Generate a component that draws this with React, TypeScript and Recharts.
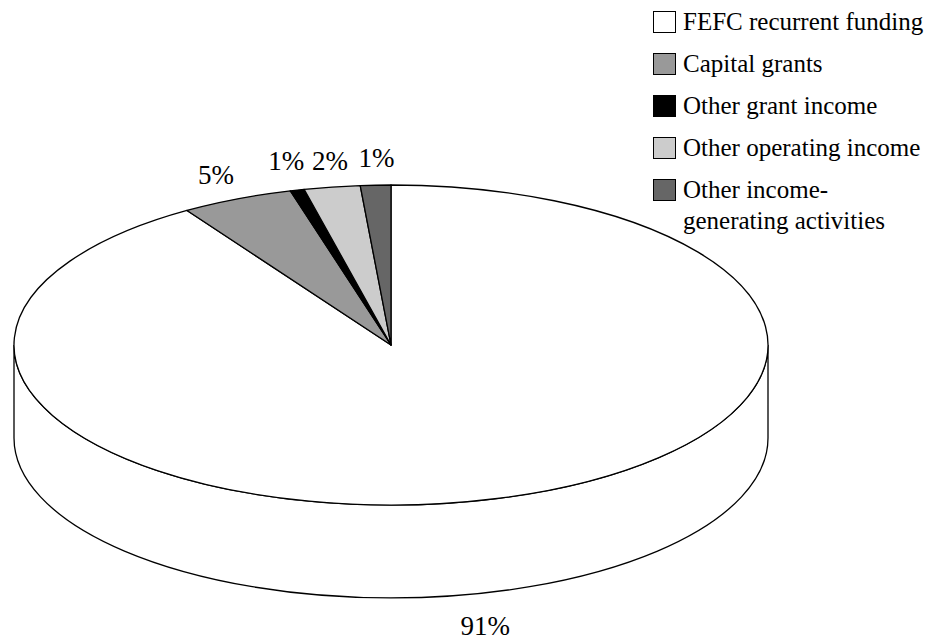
import React from "react";
import { PieChart, Pie, Legend } from "recharts";

const categories = [
  "FEFC recurrent funding",
  "Capital grants",
  "Other grant income",
  "Other operating income",
  "Other income-generating activities",
];
const shares = [90.9, 4.8, 0.6, 2.4, 1.3];
const percentLabels = ["91%", "5%", "1%", "2%", "1%"];
const fills = ["#ffffff", "#999999", "#000000", "#cccccc", "#666666"];
const labelOffsets = [
  [-12, 43],
  [-21, -15],
  [-11, -20],
  [-2, -17],
  [1, -18],
];

const FONT = "'Liberation Serif', serif";
const CX = 391;
const CY = 345;
const RX = 377;
const RY = 160;
const DEPTH = 93;

const chartData = categories.map((name, i) => ({
  name,
  value: shares[i],
  fill: fills[i],
  label: percentLabels[i],
}));

const rad = (a: number) => (a * Math.PI) / 180;
const px = (cx: number, a: number) => cx + RX * Math.cos(rad(a));
const py = (cy: number, a: number) => cy - RY * Math.sin(rad(a));

function EllipseSector(props: any) {
  const { cx, cy, startAngle, endAngle, fill, index } = props;
  const large = Math.abs(startAngle - endAngle) > 180 ? 1 : 0;
  const d = `M${cx},${cy} L${px(cx, startAngle)},${py(cy, startAngle)} A${RX},${RY} 0 ${large} 1 ${px(cx, endAngle)},${py(cy, endAngle)} Z`;
  const first = startAngle === 90 && (index === 0 || index === undefined);
  const wall = `M${cx - RX},${cy} L${cx - RX},${cy + DEPTH} A${RX},${RY} 0 0 0 ${cx + RX},${cy + DEPTH} L${cx + RX},${cy} A${RX},${RY} 0 0 1 ${cx - RX},${cy} Z`;
  return (
    <g>
      {first && <path d={wall} fill="#ffffff" stroke="#000000" strokeWidth={1.3} />}
      <path d={d} fill={fill} stroke="#000000" strokeWidth={1.3} strokeLinejoin="round" />
    </g>
  );
}

function PercentLabel(props: any) {
  const { cx, cy, midAngle, index, payload } = props;
  const [ox, oy] = labelOffsets[index];
  const wallShift = index === 0 ? DEPTH : 0;
  return (
    <text
      x={px(cx, midAngle) + ox}
      y={py(cy, midAngle) + oy + wallShift}
      textAnchor="middle"
      fontFamily={FONT}
      fontSize={27}
      fill="#000000"
    >
      {payload?.label ?? percentLabels[index]}
    </text>
  );
}

function LegendBlock() {
  return (
    <div style={{ fontFamily: FONT, fontSize: 25, color: "#000" }}>
      {chartData.map((d, i) => {
        const parts = d.name === categories[4] ? ["Other income-", "generating activities"] : [d.name];
        return (
          <div key={d.name} style={{ position: "absolute", left: 0, top: i * 42, display: "flex" }}>
            <div
              style={{
                width: 23,
                height: 22,
                background: d.fill,
                border: "1px solid #000",
                boxSizing: "border-box",
              }}
            />
            <div style={{ marginLeft: 7, marginTop: -5, lineHeight: "31px", whiteSpace: "nowrap" }}>
              {parts.map((p) => (
                <div key={p}>{p}</div>
              ))}
            </div>
          </div>
        );
      })}
    </div>
  );
}

export default function App() {
  return (
    <div style={{ position: "absolute", left: 0, top: 0, width: 926, height: 642, background: "#fff" }}>
      <PieChart width={926} height={642} margin={{ top: 0, right: 0, bottom: 0, left: 0 }}>
        <Pie
          data={chartData}
          dataKey="value"
          nameKey="name"
          cx={CX}
          cy={CY}
          outerRadius={RX}
          startAngle={90}
          endAngle={-270}
          paddingAngle={0}
          isAnimationActive={false}
          shape={EllipseSector}
          inactiveShape={EllipseSector}
          activeShape={EllipseSector}
          label={PercentLabel}
          labelLine={false}
          stroke="#000"
        />
        <Legend
          content={LegendBlock}
          layout="vertical"
          wrapperStyle={{ position: "absolute", left: 653, top: 11, width: 270, height: 230, bottom: "auto" }}
        />
      </PieChart>
    </div>
  );
}
